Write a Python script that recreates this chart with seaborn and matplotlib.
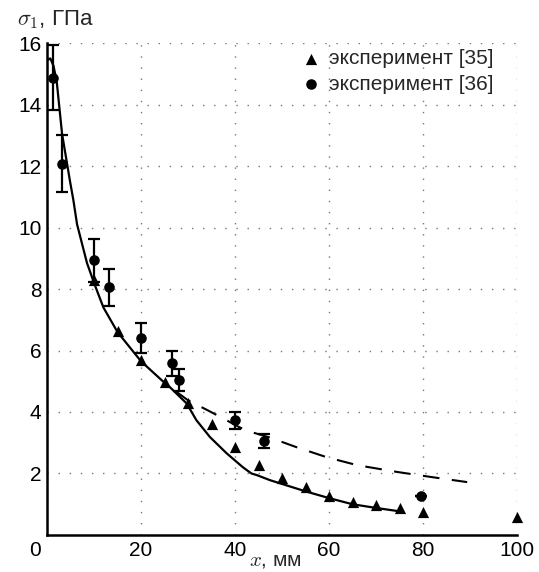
import matplotlib
matplotlib.use("Agg")
import matplotlib.pyplot as plt
import matplotlib.transforms as mtransforms
import seaborn as sns
import pandas as pd

# Experiment [35]
x35 = [10, 15, 20, 25, 30, 35, 40, 45, 50, 55, 60, 65, 70, 75, 80, 100]
y35 = [8.3, 6.62, 5.7, 4.97, 4.3, 3.6, 2.86, 2.27, 1.85, 1.56, 1.27, 1.07, 0.97, 0.88, 0.75, 0.58]

# Experiment [36] with error bars
x36 = [1.3, 3.2, 10, 13.2, 20, 26.6, 28.1, 40, 46.2, 79.6]
y36 = [14.87, 12.08, 8.93, 8.05, 6.4, 5.58, 5.03, 3.73, 3.05, 1.27]
err36 = [1.05, 0.93, 0.71, 0.6, 0.48, 0.42, 0.36, 0.28, 0.22, 0.0]

# Calculated curve (solid)
x_calc = [0.15, 0.7, 1.4, 2.1, 3.2, 4.9, 5.6, 6.4, 8.5, 10, 12, 15, 20, 25, 26.2, 29.7,
          31.8, 34.7, 38.2, 41.7, 43.5, 44.6, 47.5, 50, 55, 60, 65, 70, 75]
y_calc = [15.45, 15.5, 15.25, 14.7, 13.05, 11.5, 10.9, 10.1, 8.85, 8.2, 7.4, 6.6, 5.65,
          4.95, 4.8, 4.28, 3.73, 3.18, 2.66, 2.2, 2.0, 1.95, 1.78, 1.66, 1.42, 1.2, 1.0,
          0.88, 0.77]

# Second calculated curve (dashed)
x_dash = [27.6, 30, 34, 37, 41, 43, 47.4, 53, 59.5, 66, 74.5, 82, 89.4]
y_dash = [4.65, 4.38, 4.07, 3.83, 3.5, 3.37, 3.17, 2.86, 2.53, 2.27, 2.05, 1.88, 1.72]

x_ticks = [0, 20, 40, 60, 80, 100]
y_ticks = [2, 4, 6, 8, 10, 12, 14, 16]

sns.set_theme(style="white")
plt.rcParams["font.family"] = ["Liberation Sans", "DejaVu Sans"]
plt.rcParams["mathtext.fontset"] = "cm"

FS = 15

fig = plt.figure(figsize=(5.39, 5.72), dpi=100)
ax = fig.add_axes([0.0872, 0.0647, 0.872, 0.8601])

df_calc = pd.DataFrame({"x": x_calc, "y": y_calc})
df_dash = pd.DataFrame({"x": x_dash, "y": y_dash})
df35 = pd.DataFrame({"x": x35, "y": y35})
df36 = pd.DataFrame({"x": x36, "y": y36, "e": err36})

sns.lineplot(data=df_calc, x="x", y="y", ax=ax, color="black", lw=1.6, sort=False,
             estimator=None, legend=False)
sns.lineplot(data=df_dash, x="x", y="y", ax=ax, color="black", lw=1.5, sort=False,
             estimator=None, legend=False, dashes=False, linestyle=(0, (8, 6)))

ax.errorbar(df36["x"], df36["y"], yerr=df36["e"], fmt="none", ecolor="black",
            elinewidth=1.6, capsize=4, capthick=1.6, zorder=3)
sns.scatterplot(data=df35, x="x", y="y", ax=ax, marker="^", color="black", s=65,
                edgecolor="black", linewidth=0, label="эксперимент [35]", zorder=4,
                clip_on=False)
sns.scatterplot(data=df36, x="x", y="y", ax=ax, marker="o", color="black", s=58,
                edgecolor="black", linewidth=0, label="эксперимент [36]", zorder=4,
                clip_on=False)

ax.set_xlim(0, 100)
ax.set_ylim(0, 16)
ax.set_xticks(x_ticks)
ax.set_yticks(y_ticks)
ax.set_xticklabels([str(v) for v in x_ticks])
ax.set_yticklabels([str(v) for v in y_ticks])

ax.grid(True, color="#777777", linestyle=(0, (1, 7)), linewidth=1.0)
for side in ["top", "right"]:
    ax.spines[side].set_visible(False)
for side in ["left", "bottom"]:
    ax.spines[side].set_color("black")
    ax.spines[side].set_linewidth(1.8)

ax.tick_params(axis="both", direction="in", length=4, width=1.5, colors="black",
               labelsize=FS)
ax.tick_params(axis="y", pad=4)
ax.tick_params(axis="x", pad=4)

# shift the origin label left so it sits at the corner
lbl0 = ax.get_xticklabels()[0]
lbl0.set_transform(lbl0.get_transform() + mtransforms.ScaledTranslation(-12 / 100, 0, fig.dpi_scale_trans))

ax.set_xlabel(r"$x$, мм", fontsize=FS)
ax.xaxis.set_label_coords(0.487, -0.033)
ax.set_ylabel("")
fig.text(0.102, 0.965, r"$\sigma_{\mathsf{1}}$, ГПа", fontsize=FS + 1, ha="center", va="center")

leg = ax.legend(loc="upper left", bbox_to_anchor=(0.516, 1.004), frameon=False,
                fontsize=FS, handletextpad=0.2, labelspacing=0.3, borderaxespad=0.0,
                handlelength=1.3)

fig.savefig("out.png", dpi=100)
